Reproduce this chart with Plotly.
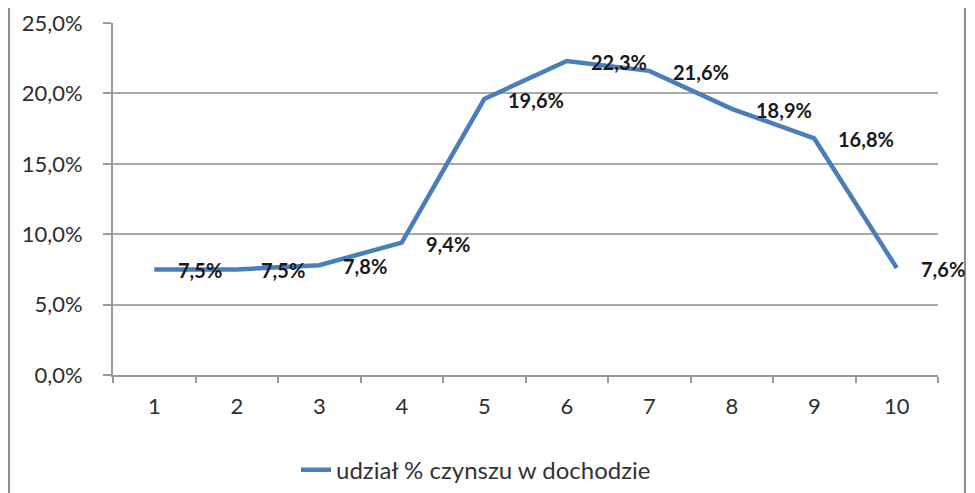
import plotly.graph_objects as go

categories = ["1", "2", "3", "4", "5", "6", "7", "8", "9", "10"]
values = [7.5, 7.5, 7.8, 9.4, 19.6, 22.3, 21.6, 18.9, 16.8, 7.6]
y_ticks = [0, 5, 10, 15, 20, 25]
y_tick_labels = ["0,0%", "5,0%", "10,0%", "15,0%", "20,0%", "25,0%"]
series_name = "udział % czynszu w dochodzie"

labels = [f"{v:.1f}".replace(".", ",") + "%" for v in values]

fig = go.Figure()
fig.add_trace(go.Scatter(
    x=categories, y=values, mode="lines", name=series_name,
    line=dict(color="#4A7EBB", width=4.5),
))

# data labels (category axis positions are the category indices)
for i, (v, t) in enumerate(zip(values, labels)):
    fig.add_annotation(x=i, y=v, text=t, showarrow=False, xanchor="left",
                       yanchor="middle", xshift=22, yshift=-1,
                       font=dict(family="Lato", size=20, color="#1a1a1a", weight="bold"))

fig.update_layout(
    width=967, height=485,
    margin=dict(l=105, r=37, t=15, b=118, autoexpand=False),
    paper_bgcolor="white", plot_bgcolor="white",
    font=dict(family="Lato", size=22, color="#2e2e2e"),
    showlegend=True,
    legend=dict(orientation="h", x=0.44, xanchor="center", y=-0.27, yanchor="middle",
                font=dict(size=24, color="#333333")),
    xaxis=dict(type="category", tickson="boundaries", ticks="outside", ticklen=6,
               tickcolor="#9a9a9a", tickwidth=1.5, showline=True, linecolor="#9a9a9a",
               linewidth=2, showgrid=False, range=[-0.5, 9.5], ticklabelstandoff=11,
               tickfont=dict(size=22), automargin=False),
    yaxis=dict(range=[0, 25], tickvals=y_ticks, ticktext=y_tick_labels, ticks="outside",
               ticklen=8, tickcolor="#9a9a9a", tickwidth=1.5, showline=True,
               linecolor="#9a9a9a", linewidth=2, showgrid=True, gridcolor="#a8a8a8",
               gridwidth=2, zeroline=False, tickfont=dict(size=22), automargin=False,
               ticklabelstandoff=16),
)

# outer frame lines
fig.add_shape(type="line", xref="paper", yref="paper", x0=-0.1260, x1=-0.1260,
              y0=-0.34, y1=1.05, line=dict(color="#8c8c8c", width=2))
fig.add_shape(type="line", xref="paper", yref="paper", x0=1.0327, x1=1.0327,
              y0=-0.34, y1=1.05, line=dict(color="#8c8c8c", width=2))

fig.write_html("out.html")
